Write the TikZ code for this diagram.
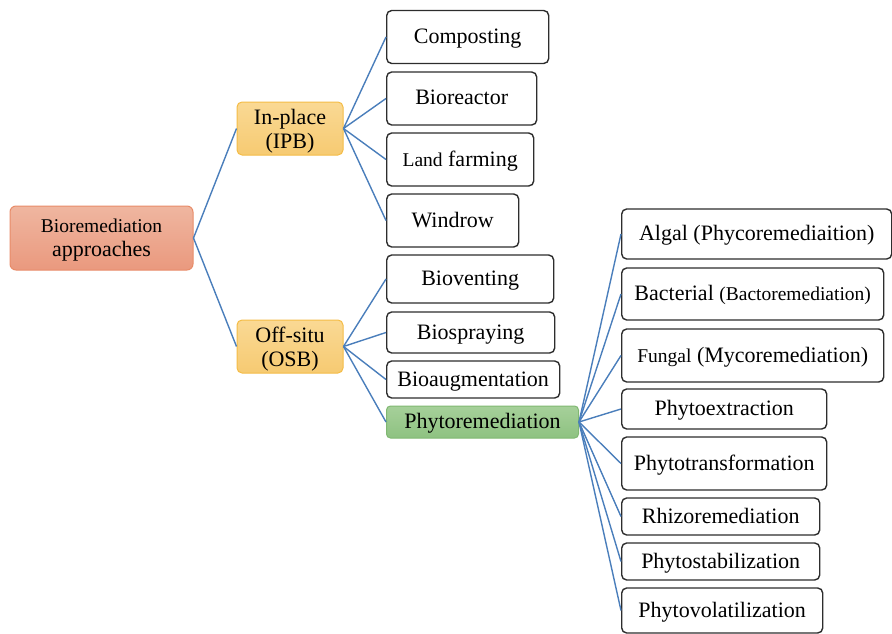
\documentclass[tikz,border=0pt]{standalone}
\usepackage{fontspec}
\setmainfont{Liberation Serif}

\newcommand{\smtext}{\fontsize{19.5}{22}\selectfont}

\definecolor{linkblue}{RGB}{74,126,187}
\definecolor{boxgray}{RGB}{45,45,45}
\definecolor{rootedge}{RGB}{232,140,105}
\definecolor{roottop}{RGB}{239,182,160}
\definecolor{rootbot}{RGB}{234,153,126}
\definecolor{midedge}{RGB}{244,188,70}
\definecolor{midtop}{RGB}{250,217,148}
\definecolor{midbot}{RGB}{246,202,114}
\definecolor{phyedge}{RGB}{128,184,114}
\definecolor{phytop}{RGB}{166,208,154}
\definecolor{phybot}{RGB}{142,194,129}

\begin{document}
\begin{tikzpicture}[x=1pt, y=-1pt,
    font=\fontsize{22}{24}\selectfont,
    every node/.style={inner sep=2pt, align=center, text depth=0pt},
    leaf/.style={draw=boxgray, line width=1.4pt, rounded corners=5pt, fill=white, anchor=west, text height=13pt},
    rootbox/.style={draw=rootedge, line width=1pt, rounded corners=6pt, top color=roottop, bottom color=rootbot},
    midbox/.style={draw=midedge, line width=1pt, rounded corners=5pt, top color=midtop, bottom color=midbot},
    phybox/.style={draw=phyedge, line width=1pt, rounded corners=4pt, top color=phytop, bottom color=phybot, anchor=west, text height=13pt},
    link/.style={draw=linkblue, line width=1.4pt}]
    \useasboundingbox (0,0) rectangle (892,634);

    % first two levels
    \node[rootbox, minimum width=183, minimum height=64] (root) at (101.5,238) {{\smtext Bioremediation}\\approaches};
    \node[midbox, minimum width=106, minimum height=53] (inplace) at (290,128.5) {In-place\\(IPB)};
    \node[midbox, minimum width=106, minimum height=53] (offsitu) at (290,346.5) {Off-situ\\(OSB)};

    % in-place methods
    \node[leaf, minimum width=162, minimum height=53] (compost) at (386,37) {Composting};
    \node[leaf, minimum width=150, minimum height=53] (reactor) at (386,98.5) {Bioreactor};
    \node[leaf, minimum width=147, minimum height=53] (landfarm) at (386,159.5) {{\smtext Land} farming};
    \node[leaf, minimum width=132, minimum height=53] (windrow) at (386,220.5) {Windrow};

    % off-situ methods
    \node[leaf, minimum width=167, minimum height=48] (venting) at (386,279) {Bioventing};
    \node[leaf, minimum width=168, minimum height=41] (spraying) at (386,332.5) {Biospraying};
    \node[leaf, minimum width=173, minimum height=37] (augment) at (386,379.5) {Bioaugmentation};
    \node[phybox, minimum width=192, minimum height=32] (phyto) at (386,422) {Phytoremediation};

    % kinds of phytoremediation
    \node[leaf, minimum width=270, minimum height=50] (algal) at (621,234) {Algal (Phycoremediaition)};
    \node[leaf, minimum width=262, minimum height=52] (bact) at (621,294) {Bacterial {\smtext (Bactoremediation)}};
    \node[leaf, minimum width=262, minimum height=53] (fungal) at (621,355.5) {{\smtext Fungal} (Mycoremediation)};
    \node[leaf, minimum width=205, minimum height=40] (extract) at (621,409) {Phytoextraction};
    \node[leaf, minimum width=205, minimum height=53] (transf) at (621,463.5) {Phytotransformation};
    \node[leaf, minimum width=198, minimum height=37] (rhizo) at (621,516.5) {Rhizoremediation};
    \node[leaf, minimum width=198, minimum height=37] (stabil) at (621,561.5) {Phytostabilization};
    \node[leaf, minimum width=201, minimum height=45] (volat) at (621,610.5) {Phytovolatilization};

    \draw[link] (root.east) -- (inplace.west);
    \draw[link] (root.east) -- (offsitu.west);
    \foreach \m in {compost, reactor, landfarm, windrow}
        \draw[link] (inplace.east) -- (\m.west);
    \foreach \m in {venting, spraying, augment, phyto}
        \draw[link] (offsitu.east) -- (\m.west);
    \foreach \m in {algal, bact, fungal, extract, transf, rhizo, stabil, volat}
        \draw[link] (phyto.east) -- (\m.west);
\end{tikzpicture}
\end{document}
